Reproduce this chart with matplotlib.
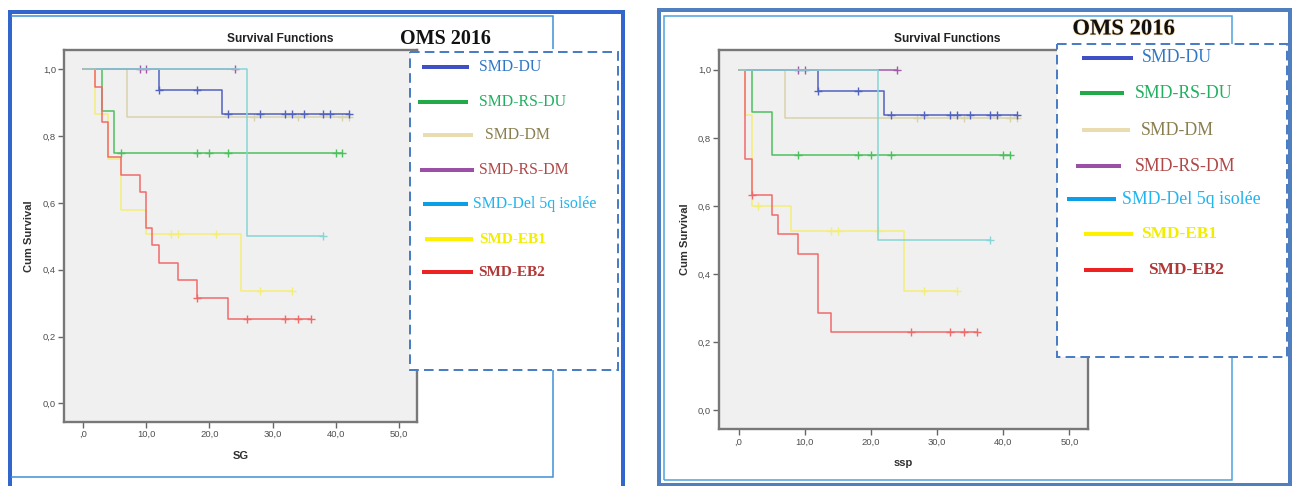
import numpy as np
import matplotlib
matplotlib.use("Agg")
import matplotlib.pyplot as plt
from matplotlib.patches import Rectangle
import matplotlib.patheffects as pe

# ---- groups and styling ----
groups = ["SMD-DU", "SMD-RS-DU", "SMD-DM", "SMD-RS-DM",
          "SMD-Del 5q isolée", "SMD-EB1", "SMD-EB2"]
curve_colors = ["#5262c0", "#4cc05c", "#d9d3ab", "#a25aa8",
                "#86d6d6", "#f4ee78", "#f06a6a"]
legend_line_colors = ["#3f4fc4", "#22aa48", "#e8dcb0", "#9c4fa6",
                      "#0a9fe6", "#fff000", "#ee2222"]
legend_text_colors = ["#2f78c8", "#20b060", "#8a7e50", "#b04848",
                      "#20b4f0", "#f2ee00", "#b03838"]

y_ticks = [0.0, 0.2, 0.4, 0.6, 0.8, 1.0]
y_tick_labels = ["0,0", "0,2", "0,4", "0,6", "0,8", "1,0"]
x_ticks = [0, 10, 20, 30, 40, 50]
x_tick_labels = [",0", "10,0", "20,0", "30,0", "40,0", "50,0"]

# ---- overall survival (SG): event times, survival after each step, last follow-up, censored times ----
sg_du_t = [0, 12, 22]
sg_du_s = [1.0, 0.938, 0.866]
sg_du_end = 42
sg_du_cens = [12, 18, 23, 28, 32, 33, 35, 38, 39, 42]

sg_rsdu_t = [0, 3, 5]
sg_rsdu_s = [1.0, 0.875, 0.75]
sg_rsdu_end = 41
sg_rsdu_cens = [6, 18, 20, 23, 40, 41]

sg_dm_t = [0, 7]
sg_dm_s = [1.0, 0.857]
sg_dm_end = 42
sg_dm_cens = [27, 34, 41, 42]

sg_rsdm_t = [0]
sg_rsdm_s = [1.0]
sg_rsdm_end = 24
sg_rsdm_cens = [9, 10, 24]

sg_del5q_t = [0, 26]
sg_del5q_s = [1.0, 0.5]
sg_del5q_end = 38
sg_del5q_cens = [38]

sg_eb1_t = [0, 2, 4, 6, 10, 25]
sg_eb1_s = [1.0, 0.867, 0.733, 0.578, 0.506, 0.337]
sg_eb1_end = 33
sg_eb1_cens = [14, 15, 21, 28, 33]

sg_eb2_t = [0, 2, 3, 4, 6, 9, 10, 11, 12, 15, 18, 23]
sg_eb2_s = [1.0, 0.947, 0.842, 0.737, 0.684, 0.632, 0.526, 0.474,
            0.421, 0.368, 0.316, 0.253]
sg_eb2_end = 36
sg_eb2_cens = [18, 26, 32, 34, 36]

# ---- progression-free survival (ssp) ----
ssp_du_t = [0, 12, 22]
ssp_du_s = [1.0, 0.938, 0.866]
ssp_du_end = 42
ssp_du_cens = [12, 18, 23, 28, 32, 33, 35, 38, 39, 42]

ssp_rsdu_t = [0, 2, 5]
ssp_rsdu_s = [1.0, 0.875, 0.75]
ssp_rsdu_end = 41
ssp_rsdu_cens = [9, 18, 20, 23, 40, 41]

ssp_dm_t = [0, 7]
ssp_dm_s = [1.0, 0.857]
ssp_dm_end = 42
ssp_dm_cens = [27, 34, 41, 42]

ssp_rsdm_t = [0]
ssp_rsdm_s = [1.0]
ssp_rsdm_end = 24
ssp_rsdm_cens = [9, 10, 24]

ssp_del5q_t = [0, 21]
ssp_del5q_s = [1.0, 0.5]
ssp_del5q_end = 38
ssp_del5q_cens = [38]

ssp_eb1_t = [0, 1, 2, 8, 25]
ssp_eb1_s = [1.0, 0.867, 0.6, 0.525, 0.35]
ssp_eb1_end = 33
ssp_eb1_cens = [3, 14, 15, 21, 28, 33]

ssp_eb2_t = [0, 1, 2, 5, 6, 9, 12, 14]
ssp_eb2_s = [1.0, 0.737, 0.632, 0.574, 0.517, 0.460, 0.287, 0.230]
ssp_eb2_end = 36
ssp_eb2_cens = [2, 26, 32, 34, 36]

sg_curves = [
    (sg_du_t, sg_du_s, sg_du_end, sg_du_cens),
    (sg_rsdu_t, sg_rsdu_s, sg_rsdu_end, sg_rsdu_cens),
    (sg_dm_t, sg_dm_s, sg_dm_end, sg_dm_cens),
    (sg_rsdm_t, sg_rsdm_s, sg_rsdm_end, sg_rsdm_cens),
    (sg_del5q_t, sg_del5q_s, sg_del5q_end, sg_del5q_cens),
    (sg_eb1_t, sg_eb1_s, sg_eb1_end, sg_eb1_cens),
    (sg_eb2_t, sg_eb2_s, sg_eb2_end, sg_eb2_cens),
]
ssp_curves = [
    (ssp_du_t, ssp_du_s, ssp_du_end, ssp_du_cens),
    (ssp_rsdu_t, ssp_rsdu_s, ssp_rsdu_end, ssp_rsdu_cens),
    (ssp_dm_t, ssp_dm_s, ssp_dm_end, ssp_dm_cens),
    (ssp_rsdm_t, ssp_rsdm_s, ssp_rsdm_end, ssp_rsdm_cens),
    (ssp_del5q_t, ssp_del5q_s, ssp_del5q_end, ssp_del5q_cens),
    (ssp_eb1_t, ssp_eb1_s, ssp_eb1_end, ssp_eb1_cens),
    (ssp_eb2_t, ssp_eb2_s, ssp_eb2_end, ssp_eb2_cens),
]
# drawing order (the 5q curve sits on top of the others at 1,0)
draw_z = [3, 3, 2, 3, 6, 4, 5]

W, H = 1295, 486
fig = plt.figure(figsize=(W / 100, H / 100), dpi=100)
fig.patch.set_facecolor("white")


def km_curve(ax, t, s, end, cens, color, z):
    xs = list(t) + [end]
    ys = list(s) + [s[-1]]
    ax.step(xs, ys, where="post", color=color, lw=1.1, zorder=z)
    idx = np.searchsorted(t, cens, side="right") - 1
    ax.plot(cens, np.asarray(s)[idx], ls="none", marker="+", ms=5.5,
            mew=1.0, color=color, zorder=z)


def make_axes(rect_px, curves, xlabel):
    left, top, right, bottom = rect_px
    ax = fig.add_axes([left / W, 1 - bottom / H, (right - left) / W,
                       (bottom - top) / H], zorder=1)
    ax.set_facecolor("#f0f0f0")
    for (t, s, end, cens), c, z in zip(curves, curve_colors, draw_z):
        km_curve(ax, t, s, end, cens, c, z)
    ax.set_xlim(-2.95, 52.8)
    ax.set_ylim(-0.056, 1.058)
    ax.set_xticks(x_ticks)
    ax.set_xticklabels(x_tick_labels)
    ax.set_yticks(y_ticks)
    ax.set_yticklabels(y_tick_labels)
    ax.tick_params(direction="out", length=4, width=1, color="#666666",
                   labelsize=6.8, labelcolor="#505050", pad=1.8)
    for lab in ax.get_xticklabels() + ax.get_yticklabels():
        lab.set_family("Liberation Sans")
    for side in ("left", "bottom", "top", "right"):
        ax.spines[side].set_color("#787878")
        ax.spines[side].set_linewidth(1.7)
    ax.set_xlabel(xlabel, fontsize=8, fontweight="bold", family="Liberation Sans",
                  color="#303030")
    ax.set_ylabel("Cum Survival", fontsize=8, fontweight="bold",
                  family="Liberation Sans", color="#303030")
    ax.xaxis.set_label_coords(0.5, -33.5 / (bottom - top))
    ax.xaxis.label.set_va("center")
    ax.yaxis.set_label_coords(-34.5 / (right - left), 0.5)
    ax.yaxis.label.set_va("center")
    return ax


make_axes((64, 50, 417, 422), sg_curves, "SG")
make_axes((719, 50, 1088, 429.3), ssp_curves, "ssp")

# ---- overlay in pixel coordinates: frames, titles, legends ----
ov = fig.add_axes([0, 0, 1, 1], zorder=10)
ov.set_xlim(0, W)
ov.set_ylim(H, 0)
ov.axis("off")
ov.patch.set_alpha(0)

px = 0.72  # points per pixel


def seg(xs, ys, color, lw_px):
    ov.plot(xs, ys, color=color, lw=lw_px * px, solid_capstyle="butt",
            solid_joinstyle="miter")


# left frame
seg([9.5, 9.5, 622.5, 622.5], [488, 12, 12, 488], "#3366cc", 4)
seg([11, 553, 553], [16.5, 16.5, 49], "#3b8fd8", 1.5)
seg([11, 553, 553], [476.5, 476.5, 370], "#3b8fd8", 1.5)

# right frame
seg([658.5, 658.5, 1290, 1290, 658.5], [486, 10.5, 10.5, 484.5, 484.5], "#4f7fbf", 4)
seg([664, 664, 1232, 1232], [480, 16.5, 16.5, 44], "#4aa0dc", 1.5)
seg([664, 1232, 1232], [480, 480, 357], "#4aa0dc", 1.5)

# titles
ov.text(280.5, 39, "Survival Functions", ha="center", va="center", fontsize=8.6,
        fontweight="bold", family="Liberation Sans", color="#222222")
ov.text(947, 39, "Survival Functions", ha="center", va="center", fontsize=8.6,
        fontweight="bold", family="Liberation Sans", color="#222222")
ov.text(445.5, 38.5, "OMS 2016", ha="center", va="center", fontsize=14.5,
        fontweight="bold", family="Liberation Serif", color="#111111")
glow = [pe.withStroke(linewidth=1.0, foreground="#f7dcb0")]
ov.text(1123.5, 29, "OMS 2016", ha="center", va="center", fontsize=16.3,
        fontweight="bold", family="Liberation Serif", color="#111111",
        path_effects=glow)

# legend boxes
dash = (0, (4.8, 2.6))
ov.add_patch(Rectangle((410, 52), 208, 318, facecolor="white", edgecolor="#4a7ec4",
                       lw=2 * px, ls=dash, zorder=3))
ov.add_patch(Rectangle((1057, 44), 230, 313, facecolor="white", edgecolor="#4a7ec4",
                       lw=2 * px, ls=dash, zorder=3))

# legend entries: (y, line x0, line x1, text x)
left_rows = [(67, 422, 469, 479), (102, 418, 468, 479), (135, 423, 473, 485),
             (170, 420, 474, 479), (204, 423, 468, 473), (239, 425, 473, 479),
             (272, 422, 473, 478)]
right_rows = [(58, 1082, 1133, 1142), (93, 1080, 1124, 1135), (130, 1082, 1130, 1141),
              (166, 1076, 1121, 1135), (199, 1067, 1116, 1122), (234, 1084, 1133, 1141),
              (270, 1084, 1133, 1148)]
weights = ["normal"] * 5 + ["bold"] * 2

for rows, fs in ((left_rows, 11.4), (right_rows, 12.8)):
    for (y, x0, x1, tx), name, lc, tc, w in zip(rows, groups, legend_line_colors,
                                                legend_text_colors, weights):
        ov.plot([x0, x1], [y, y], color=lc, lw=4 * px, solid_capstyle="butt", zorder=4)
        ov.text(tx, y, name, ha="left", va="center", fontsize=fs if w == "normal" else fs - 0.4,
                family="Liberation Serif", fontweight=w, color=tc, zorder=5)

fig.savefig("out.png", dpi=100)
